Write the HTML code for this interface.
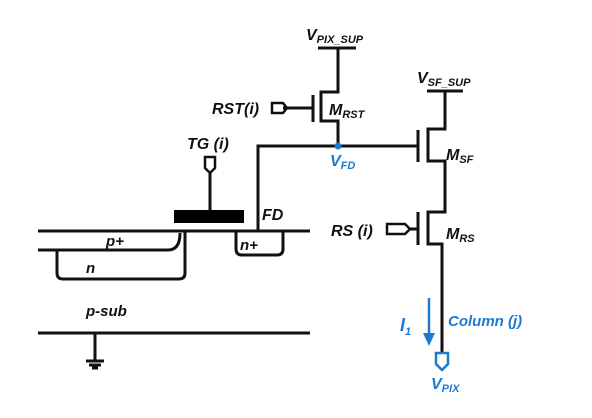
<!DOCTYPE html>
<html><head><style>
body{margin:0;background:#fff;}
text{font-family:"Liberation Sans",Arial,sans-serif;font-weight:bold;font-style:italic;}
</style></head><body>
<svg width="592" height="413" viewBox="0 0 592 413" xmlns="http://www.w3.org/2000/svg">
<g fill="none" stroke="#111" stroke-width="3">
<line x1="318" y1="48" x2="356" y2="48"/>
<polyline points="338,48 338,92 321,92 321,121 338,121 338,146"/>
<line x1="313" y1="95" x2="313" y2="122"/>
<line x1="283" y1="108" x2="313" y2="108"/>
<path d="M272,103 H283 L287,108 L283,113 H272 Z" stroke-width="2.5"/>
<polyline points="258,231 258,146 418,146"/>
<line x1="418" y1="130" x2="418" y2="162"/>
<line x1="427" y1="91" x2="463" y2="91"/>
<polyline points="445,91 445,129 428,129 428,161 445,161 445,212 428,212 428,244 442,244 442,353"/>
<line x1="418" y1="212" x2="418" y2="245"/>
<line x1="409" y1="229" x2="418" y2="229"/>
<path d="M387,224 H405 L410,229 L405,234 H387 Z" stroke-width="2.5"/>
<line x1="38" y1="231" x2="310" y2="231"/>
<path d="M38,250 H168 Q180,250 180,233" />
<path d="M185,232 V273 Q185,279 179,279 H63 Q57,279 57,273 V250"/>
<path d="M236,232 V249 Q236,255 242,255 H277 Q283,255 283,249 V232"/>
<line x1="210" y1="172" x2="210" y2="211"/>
<path d="M205,157 H215 V168 L210,173 L205,168 Z" stroke-width="2.5"/>
<line x1="38" y1="333" x2="310" y2="333"/>
<line x1="95" y1="333" x2="95" y2="361"/>
<line x1="86" y1="361" x2="104" y2="361"/>
<line x1="89" y1="365" x2="101" y2="365"/>
<line x1="92" y1="368" x2="98" y2="368"/>
</g>
<rect x="174" y="210" width="70" height="13" fill="#000"/>
<circle cx="338" cy="146" r="3.5" fill="#1a7bd0"/>
<g stroke="#1a7bd0" fill="none" stroke-width="2.5">
<path d="M436,353 H448 V364 L442,370 L436,364 Z"/>
<line x1="429" y1="298" x2="429" y2="335"/>
</g>
<polygon points="423,333 435,333 429,346" fill="#1a7bd0"/>
<g fill="#111" font-size="16">
<text x="306" y="40">V<tspan font-size="11" dy="3">PIX_SUP</tspan></text>
<text x="417" y="83">V<tspan font-size="11" dy="3">SF_SUP</tspan></text>
<text x="212" y="114">RST(i)</text>
<text x="329" y="115">M<tspan font-size="11" dy="3">RST</tspan></text>
<text x="446" y="160">M<tspan font-size="11" dy="3">SF</tspan></text>
<text x="446" y="239">M<tspan font-size="11" dy="3">RS</tspan></text>
<text x="331" y="236">RS (i)</text>
<text x="187" y="149">TG (i)</text>
<text x="262" y="220">FD</text>
<text x="240" y="250" font-size="15">n+</text>
<text x="106" y="246" font-size="15">p+</text>
<text x="86" y="273" font-size="15">n</text>
<text x="86" y="316" font-size="15">p-sub</text>
</g>
<g fill="#1a7bd0" font-size="16">
<text x="330" y="166">V<tspan font-size="11" dy="3">FD</tspan></text>
<text x="400" y="331" font-size="18">I<tspan font-size="11" dy="4">1</tspan></text>
<text x="448" y="326" font-size="15">Column (j)</text>
<text x="431" y="389">V<tspan font-size="11" dy="3">PIX</tspan></text>
</g>
</svg>
</body></html>
